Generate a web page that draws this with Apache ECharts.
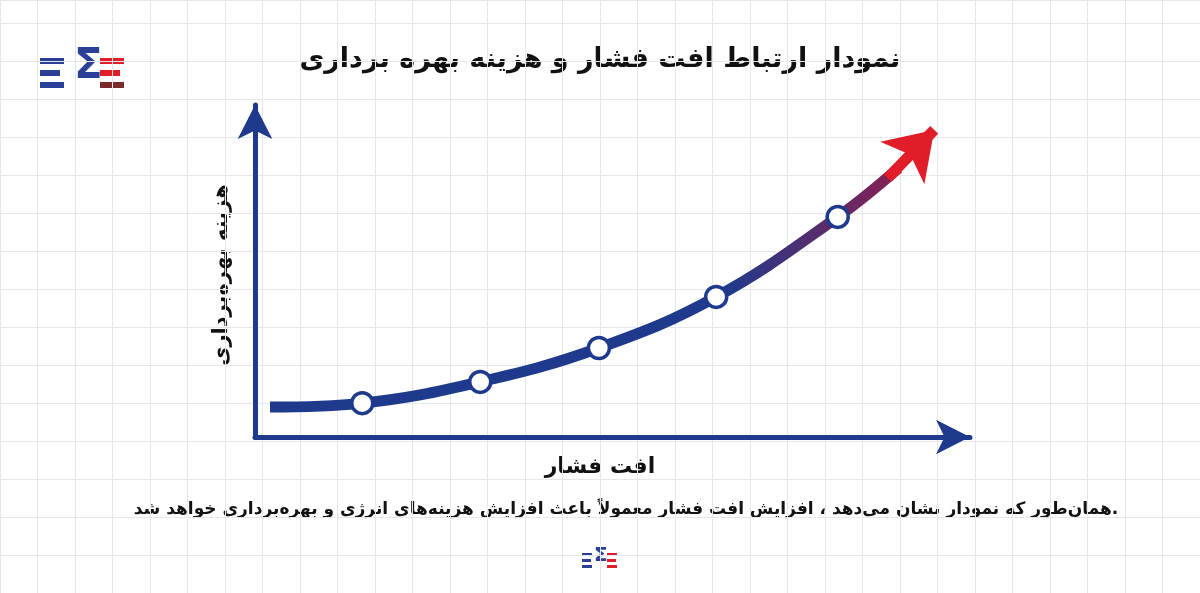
<!DOCTYPE html>
<html><head><meta charset="utf-8">
<script src="https://cdn.jsdelivr.net/npm/echarts@6/dist/echarts.min.js"></script>
<style>html,body{margin:0;padding:0;background:#fff}#c{width:1200px;height:593px}</style>
</head><body><div id="c"></div>
<script>
const titleText = 'نمودار ارتباط افت فشار و هزینه بهره برداری';
const xName = 'افت فشار';
const yName = 'هزینه بهره‌برداری';
const caption = 'همان‌طور که نمودار نشان می‌دهد ، افزایش افت فشار معمولاً باعث افزایش هزینه‌های انرژی و بهره‌برداری خواهد شد.';
const curveX = [0.21, 1.5, 3.15, 4.81, 6.45, 8.15, 9.0];
const curveY = [0.9, 1.02, 1.66, 2.68, 4.22, 6.63, 8.1];
const pointX = [1.5, 3.15, 4.81, 6.45, 8.15];
const pointY = [1.02, 1.66, 2.68, 4.22, 6.63];
const arrowFrom = [8.85, 7.8];
const arrowTo = [9.5, 9.25];

const navy = '#1f3a8c', red = '#e11d2a';
const F = '"DejaVu Sans", sans-serif';
const chart = echarts.init(document.getElementById('c'));
chart.setOption({
  animation:false,
  grid:[
    {left:255,width:715,top:105,bottom:156},
    {left:0,right:0,top:0,bottom:0}
  ],
  xAxis:[
    {gridIndex:0,type:'value',min:0,max:10,axisLabel:{show:false},axisTick:{show:false},splitLine:{show:false},
     axisLine:{lineStyle:{color:navy,width:5},symbol:['none','arrow'],symbolSize:[26,34]}},
    {gridIndex:1,type:'value',min:0,max:32,interval:1,axisLabel:{show:false},axisTick:{show:false},axisLine:{show:false},
     splitLine:{lineStyle:{color:'#e4e7ec',width:1}}}
  ],
  yAxis:[
    {gridIndex:0,type:'value',min:0,max:10,axisLabel:{show:false},axisTick:{show:false},splitLine:{show:false},
     axisLine:{lineStyle:{color:navy,width:5},symbol:['none','arrow'],symbolSize:[26,34]}},
    {gridIndex:1,type:'value',min:0,max:15.6,interval:1,axisLabel:{show:false},axisTick:{show:false},axisLine:{show:false},
     splitLine:{lineStyle:{color:'#e4e7ec',width:1}}}
  ],
  series:[
    {type:'line',xAxisIndex:0,yAxisIndex:0,smooth:0.4,symbol:'none',z:3,
     data:curveX.map((x,i)=>[x,curveY[i]]),
     lineStyle:{width:11,color:new echarts.graphic.LinearGradient(0,0,1,0,[{offset:0,color:navy},{offset:0.72,color:navy},{offset:1,color:'#8a2050'}])}},
    {type:'lines',coordinateSystem:'cartesian2d',xAxisIndex:0,yAxisIndex:0,z:4,
     symbol:['none','arrow'],symbolSize:46,
     lineStyle:{width:11,color:red,opacity:1,curveness:0},
     data:[{coords:[arrowFrom,arrowTo]}]},
    {type:'scatter',xAxisIndex:0,yAxisIndex:0,z:5,symbol:'circle',symbolSize:21,
     itemStyle:{color:'#ffffff',opacity:1,borderColor:navy,borderWidth:3.5},
     data:pointX.map((x,i)=>[x,pointY[i]])}
  ],
  graphic:[
    {type:'text',left:'center',top:46,style:{text:titleText,font:'bold 27px '+F,fill:'#111'}},
    {type:'text',x:600,y:467,style:{text:xName,font:'bold 22px '+F,fill:'#111',align:'center',verticalAlign:'middle'}},
    {type:'text',x:222,y:275,rotation:Math.PI/2,style:{text:yName,font:'bold 21px '+F,fill:'#111',align:'center',verticalAlign:'middle'}},
    {type:'text',x:626,y:510,style:{text:caption,font:'bold 17px '+F,fill:'#111',align:'center',verticalAlign:'middle'}},
    {type:'group',x:40,y:50,children:[
      {type:'rect',shape:{x:0,y:8,width:24,height:6},style:{fill:'#2a3f98'}},
      {type:'rect',shape:{x:0,y:20,width:20,height:6},style:{fill:'#2a3f98'}},
      {type:'rect',shape:{x:0,y:32,width:24,height:6},style:{fill:'#2a3f98'}},
      {type:'rect',shape:{x:60,y:8,width:24,height:6},style:{fill:'#e11d2a'}},
      {type:'rect',shape:{x:60,y:20,width:20,height:6},style:{fill:'#e11d2a'}},
      {type:'rect',shape:{x:60,y:32,width:24,height:6},style:{fill:'#7a2a2a'}},
      {type:'text',x:34,y:-4,style:{text:'Σ',font:'bold 42px "DejaVu Sans"',fill:'#2a3f98'}}
    ]},
    {type:'group',x:582,y:543,children:[
      {type:'rect',shape:{x:0,y:10,width:10,height:3},style:{fill:'#2a3f98'}},
      {type:'rect',shape:{x:0,y:16,width:9,height:3},style:{fill:'#2a3f98'}},
      {type:'rect',shape:{x:0,y:22,width:10,height:3},style:{fill:'#2a3f98'}},
      {type:'rect',shape:{x:25,y:10,width:10,height:3},style:{fill:'#e11d2a'}},
      {type:'rect',shape:{x:25,y:16,width:9,height:3},style:{fill:'#e11d2a'}},
      {type:'rect',shape:{x:25,y:22,width:10,height:3},style:{fill:'#e11d2a'}},
      {type:'text',x:12,y:3,style:{text:'Σ',font:'bold 20px "DejaVu Sans"',fill:'#2a3f98'}}
    ]}
  ]
});
</script></body></html>
